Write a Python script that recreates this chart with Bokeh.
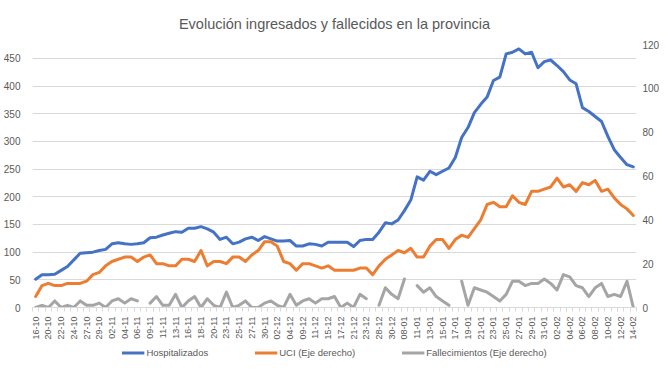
from bokeh.plotting import figure
from bokeh.models import (Range1d, LinearAxis, FixedTicker, Legend, LegendItem,
                          ColumnDataSource)
from bokeh.layouts import column
from bokeh.embed import file_html
from bokeh.resources import INLINE
import math

fechas = ["16-10", "19-10", "20-10", "21-10", "22-10", "23-10", "24-10", "26-10", "27-10", "28-10",
          "29-10", "30-10", "02-11", "03-11", "04-11", "05-11", "06-11", "07-11", "09-11", "10-11",
          "11-11", "12-11", "13-11", "14-11", "16-11", "17-11", "18-11", "19-11", "20-11", "21-11",
          "23-11", "24-11", "25-11", "26-11", "27-11", "28-11", "30-11", "01-12", "02-12", "03-12",
          "04-12", "07-12", "09-12", "10-12", "11-12", "14-12", "15-12", "16-12", "17-12", "18-12",
          "21-12", "22-12", "23-12", "24-12", "28-12", "29-12", "30-12", "04-01", "08-01", "10-01",
          "11-01", "12-01", "13-01", "14-01", "15-01", "16-01", "17-01", "18-01", "19-01", "20-01",
          "21-01", "22-01", "23-01", "24-01", "25-01", "26-01", "27-01", "28-01", "29-01", "30-01",
          "31-01", "01-02", "02-02", "03-02", "04-02", "05-02", "06-02", "07-02", "08-02", "09-02",
          "10-02", "11-02", "12-02", "13-02", "14-02"]

hospitalizados = [51, 59, 59, 60, 67, 74, 86, 98, 99, 100,
                  103, 105, 115, 117, 115, 114, 115, 117, 126, 127,
                  131, 134, 137, 136, 143, 143, 146, 142, 136, 123,
                  127, 115, 118, 124, 127, 121, 128, 124, 120, 120,
                  121, 111, 111, 115, 114, 111, 118, 118, 118, 118,
                  110, 121, 123, 123, 136, 153, 151, 158, 175, 194,
                  236, 230, 246, 240, 246, 252, 271, 307, 325, 352,
                  367, 380, 410, 416, 458, 461, 467, 458, 461, 433,
                  444, 447, 437, 426, 411, 404, 361, 354, 345, 336,
                  309, 285, 271, 258, 254]

uci = [5, 10, 11, 10, 10, 11, 11, 11, 12, 15,
       16, 19, 21, 22, 23, 23, 21, 23, 24, 20,
       20, 19, 19, 22, 22, 21, 26, 19, 21, 21,
       20, 23, 23, 21, 24, 26, 30, 30, 28, 21,
       20, 17, 20, 20, 19, 18, 19, 17, 17, 17,
       17, 18, 18, 15, 19, 22, 24, 26, 25, 27,
       23, 23, 28, 31, 31, 27, 31, 33, 32, 36,
       40, 47, 48, 46, 46, 51, 48, 47, 53, 53,
       54, 55, 59, 55, 56, 53, 57, 56, 58, 53,
       54, 50, 47, 45, 42]

NA = float("nan")
fallecimientos = [0, 1, 0, 3, 0, 1, 0, 3, 1, 1,
                  2, 0, 3, 4, 2, 4, 3, NA, 2, 5,
                  1, 1, 6, 0, 3, 5, 0, 4, 1, 0,
                  7, 0, 1, 3, 0, 0, 2, 3, 1, 0,
                  6, 1, 3, 4, 2, 4, 4, 5, 0, 2,
                  0, 6, 4, NA, 1, 9, 6, 4, 13, NA,
                  10, 7, 9, 5, 3, 1, NA, 12, 1, 9,
                  8, 7, 5, 3, 6, 12, 12, 10, 11, 11,
                  13, 11, 8, 15, 14, 10, 9, 5, 9, 11,
                  5, 6, 5, 12, 0]

series = ["Hospitalizados", "UCI (Eje derecho)", "Fallecimientos (Eje derecho)"]
colores = ["#4472C4", "#ED7D31", "#A5A5A5"]

izq_ticks = [0, 50, 100, 150, 200, 250, 300, 350, 400, 450]
der_ticks = [0, 20, 40, 60, 80, 100, 120]

FONT = "Liberation Sans"
TXT = "#595959"
GRID = "#d9d9d9"

n = len(fechas)
x = list(range(n))
src = ColumnDataSource(dict(x=x, h=hospitalizados, u=uci, f=fallecimientos))

W = 662
p = figure(width=W, height=342, output_backend="svg", toolbar_location=None,
           x_range=Range1d(-0.5, n - 0.5), y_range=Range1d(0, 475),
           min_border_left=25, min_border_right=10, min_border_top=42,
           min_border_bottom=31)
p.extra_y_ranges = {"der": Range1d(0, 120)}

p.title.text = "Evolución ingresados y fallecidos en la provincia"
p.title.align = "center"
p.title.text_font = FONT
p.title.text_font_size = "14.5px"
p.title.text_font_style = "normal"
p.title.text_color = TXT
p.title.standoff = 26

p.outline_line_color = None
p.xgrid.grid_line_color = None
p.ygrid.grid_line_color = GRID
p.ygrid.ticker = FixedTicker(ticks=izq_ticks)

# x axis
xa = p.xaxis[0]
xa.ticker = FixedTicker(ticks=list(range(0, n, 2)),
                        minor_ticks=[i - 0.5 for i in range(n + 1)])
xa.major_label_overrides = {i: fechas[i] for i in range(0, n, 2)}
xa.major_label_orientation = math.pi / 2
xa.major_label_text_font = FONT
xa.major_label_text_font_size = "9px"
xa.major_label_text_color = TXT
xa.major_tick_line_color = None
xa.major_tick_out = 0
xa.major_tick_in = 0
xa.minor_tick_line_color = GRID
xa.minor_tick_in = 0
xa.minor_tick_out = 4
xa.axis_line_color = GRID
xa.major_label_standoff = 5

ya = p.yaxis[0]
ya.ticker = FixedTicker(ticks=izq_ticks)
ya.axis_line_color = None
ya.major_tick_line_color = None
ya.minor_tick_line_color = None
ya.major_tick_out = 0
ya.minor_tick_out = 0
ya.major_label_text_font = FONT
ya.major_label_text_font_size = "10px"
ya.major_label_text_color = TXT
ya.major_label_standoff = 12

ra = LinearAxis(y_range_name="der", ticker=FixedTicker(ticks=der_ticks))
ra.axis_line_color = None
ra.major_tick_line_color = None
ra.minor_tick_line_color = None
ra.major_tick_out = 0
ra.minor_tick_out = 0
ra.major_tick_in = 0
ra.minor_tick_in = 0
ra.major_label_text_font = FONT
ra.major_label_text_font_size = "10px"
ra.major_label_text_color = TXT
ra.major_label_standoff = 6
p.add_layout(ra, "right")

p.line("x", "h", source=src, line_color=colores[0], line_width=3,
       line_join="round", line_cap="round")
p.line("x", "u", source=src, y_range_name="der", line_color=colores[1],
       line_width=3, line_join="round", line_cap="round")
p.line("x", "f", source=src, y_range_name="der", line_color=colores[2],
       line_width=3, line_join="round", line_cap="round")

# legend in its own strip below the chart
lf = figure(width=W, height=20, output_backend="svg", toolbar_location=None,
            x_range=Range1d(0, 1), y_range=Range1d(0, 1),
            x_axis_type=None, y_axis_type=None,
            min_border_left=28, min_border_right=0, min_border_top=0,
            min_border_bottom=0)
lf.outline_line_color = None
lf.xgrid.visible = False
lf.ygrid.visible = False
items = []
for nombre, col in zip(series, colores):
    r = lf.line([-5, -4], [-5, -4], line_color=col, line_width=3)
    items.append(LegendItem(label=nombre, renderers=[r]))
leg = Legend(items=items, orientation="horizontal", location="center",
             label_text_font=FONT, label_text_font_size="9.5px",
             label_text_color=TXT, glyph_width=23, glyph_height=10,
             spacing=46, padding=0, margin=0, border_line_color=None,
             background_fill_alpha=0, label_standoff=2)
lf.add_layout(leg, "center")

open("out.html", "w").write(file_html(column(p, lf), INLINE))
